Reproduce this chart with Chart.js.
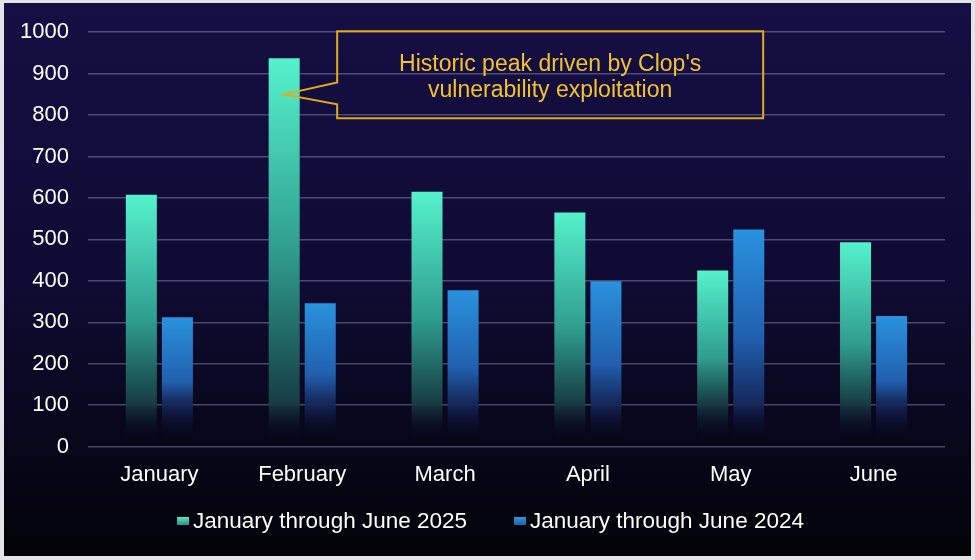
<!DOCTYPE html>
<html>
<head>
<meta charset="utf-8">
<script src="https://cdn.jsdelivr.net/npm/chart.js"></script>
<style>
  html, body { margin: 0; padding: 0; background: #e4e4e8; }
  #wrap { width: 975px; height: 560px; position: relative; }
</style>
</head>
<body>
<div id="wrap"><canvas id="chartAttacks"></canvas></div>
<script>
const months = ['January', 'February', 'March', 'April', 'May', 'June'];
const attacks2025 = [608, 937, 615, 565, 425, 493];
const attacks2024 = [312, 346, 377, 399, 524, 315];
const yTicks = [0, 100, 200, 300, 400, 500, 600, 700, 800, 900, 1000];
const calloutLines = ["Historic peak driven by Clop's", 'vulnerability exploitation'];
const calloutValue = 850;

const FONT = "'Liberation Sans', Arial, sans-serif";

// per-bar gradient, bright at the top and fading out just above zero
function barFill(top, mid, low) {
  return c => {
    const chart = c.chart;
    if (!chart.chartArea || c.raw == null) return top;
    const y = chart.scales.y;
    const y0 = y.getPixelForValue(c.raw);
    const y1 = y.getPixelForValue(0);
    const h = Math.max(y1 - y0, 1);
    const g = chart.ctx.createLinearGradient(0, y0, 0, y1);
    const lowAt = Math.max((h - 45) / h, 0.55);
    const goneAt = Math.max((h - 8) / h, lowAt + 0.01);
    g.addColorStop(0, top);
    g.addColorStop(Math.min(0.5, lowAt - 0.01), mid);
    g.addColorStop(lowAt, low);
    g.addColorStop(goneAt, 'rgba(10,10,40,0)');
    g.addColorStop(1, 'rgba(10,10,40,0)');
    return g;
  };
}

const background = {
  id: 'background',
  beforeDraw(chart) {
    const { ctx, width, height } = chart;
    ctx.save();
    ctx.fillStyle = '#e4e4e8';
    ctx.fillRect(0, 0, width, height);
    const g = ctx.createLinearGradient(0, 3, 0, 556);
    g.addColorStop(0, '#150f44');
    g.addColorStop(0.5, '#0f0b33');
    g.addColorStop(1, '#030308');
    ctx.fillStyle = g;
    ctx.fillRect(4, 3, 967, 553);
    ctx.restore();
  }
};

const callout = {
  id: 'callout',
  afterDatasetsDraw(chart) {
    const { ctx } = chart;
    const y = chart.scales.y;
    const bar = chart.getDatasetMeta(0).data[1];
    const tipX = bar.x;
    const tipY = y.getPixelForValue(calloutValue);
    const left = tipX + 53, right = left + 426;
    const top = y.getPixelForValue(1000) - 1, bottom = top + 87;
    ctx.save();
    ctx.strokeStyle = '#e0ab1c';
    ctx.lineWidth = 2;
    ctx.beginPath();
    ctx.moveTo(left, top);
    ctx.lineTo(right, top);
    ctx.lineTo(right, bottom);
    ctx.lineTo(left, bottom);
    ctx.lineTo(left, tipY + 10);
    ctx.lineTo(tipX, tipY);
    ctx.lineTo(left, tipY - 12);
    ctx.closePath();
    ctx.stroke();
    ctx.fillStyle = '#f2c230';
    ctx.font = '23px ' + FONT;
    ctx.textAlign = 'center';
    ctx.textBaseline = 'middle';
    const cx = (left + right) / 2;
    ctx.fillText(calloutLines[0], cx, top + 33);
    ctx.fillText(calloutLines[1], cx, top + 59);
    ctx.restore();
  }
};

// legend drawn below the axis labels, small gradient squares
const bottomLegend = {
  id: 'bottomLegend',
  afterDraw(chart) {
    const { ctx } = chart;
    const sets = chart.data.datasets;
    const box = 12, gap = 4, spacing = 47, cy = 521;
    ctx.save();
    ctx.font = '22.5px ' + FONT;
    ctx.textBaseline = 'middle';
    const widths = sets.map(ds => ctx.measureText(ds.label).width);
    const total = widths.reduce((a, w) => a + box + gap + w, 0) + spacing * (sets.length - 1);
    let x = chart.width / 2 + 3 - total / 2;
    sets.forEach((ds, i) => {
      const g = ctx.createLinearGradient(0, cy - 4, 0, cy + 4);
      g.addColorStop(0, ds.legendColors[0]);
      g.addColorStop(1, ds.legendColors[1]);
      ctx.fillStyle = g;
      ctx.fillRect(x, cy - 4, box, 8);
      x += box + gap;
      ctx.fillStyle = '#ffffff';
      ctx.fillText(ds.label, x, cy + 1);
      x += widths[i] + spacing;
    });
    ctx.restore();
  }
};

new Chart(document.getElementById('chartAttacks'), {
  type: 'bar',
  data: {
    labels: months,
    datasets: [{
      label: 'January through June 2025',
      data: attacks2025,
      backgroundColor: barFill('#55f2cc', '#2f9c8e', '#173f45'),
      legendColors: ['#55e8c4', '#2c8f86']
    }, {
      label: 'January through June 2024',
      data: attacks2024,
      backgroundColor: barFill('#2a92de', '#215fae', '#152a5e'),
      legendColors: ['#2f9ae0', '#1f5ea8']
    }]
  },
  options: {
    responsive: true,
    maintainAspectRatio: false,
    animation: false,
    layout: { padding: { left: 1, right: 30, top: 29, bottom: 65 } },
    datasets: { bar: { categoryPercentage: 0.505, barPercentage: 0.86 } },
    scales: {
      x: {
        grid: { display: false },
        border: { display: false },
        ticks: { color: '#ffffff', font: { family: FONT, size: 22 }, padding: 7 }
      },
      y: {
        min: 0,
        max: 1000,
        afterBuildTicks: axis => { axis.ticks = yTicks.map(v => ({ value: v })); },
        grid: { color: 'rgba(190,190,225,0.35)', lineWidth: 1.5, drawTicks: false },
        border: { display: false },
        ticks: {
          color: '#ffffff',
          font: { family: FONT, size: 22 },
          padding: 19,
          callback: v => String(v)
        }
      }
    },
    plugins: {
      tooltip: { enabled: false },
      legend: { display: false }
    }
  },
  plugins: [background, callout, bottomLegend]
});
</script>
</body>
</html>
